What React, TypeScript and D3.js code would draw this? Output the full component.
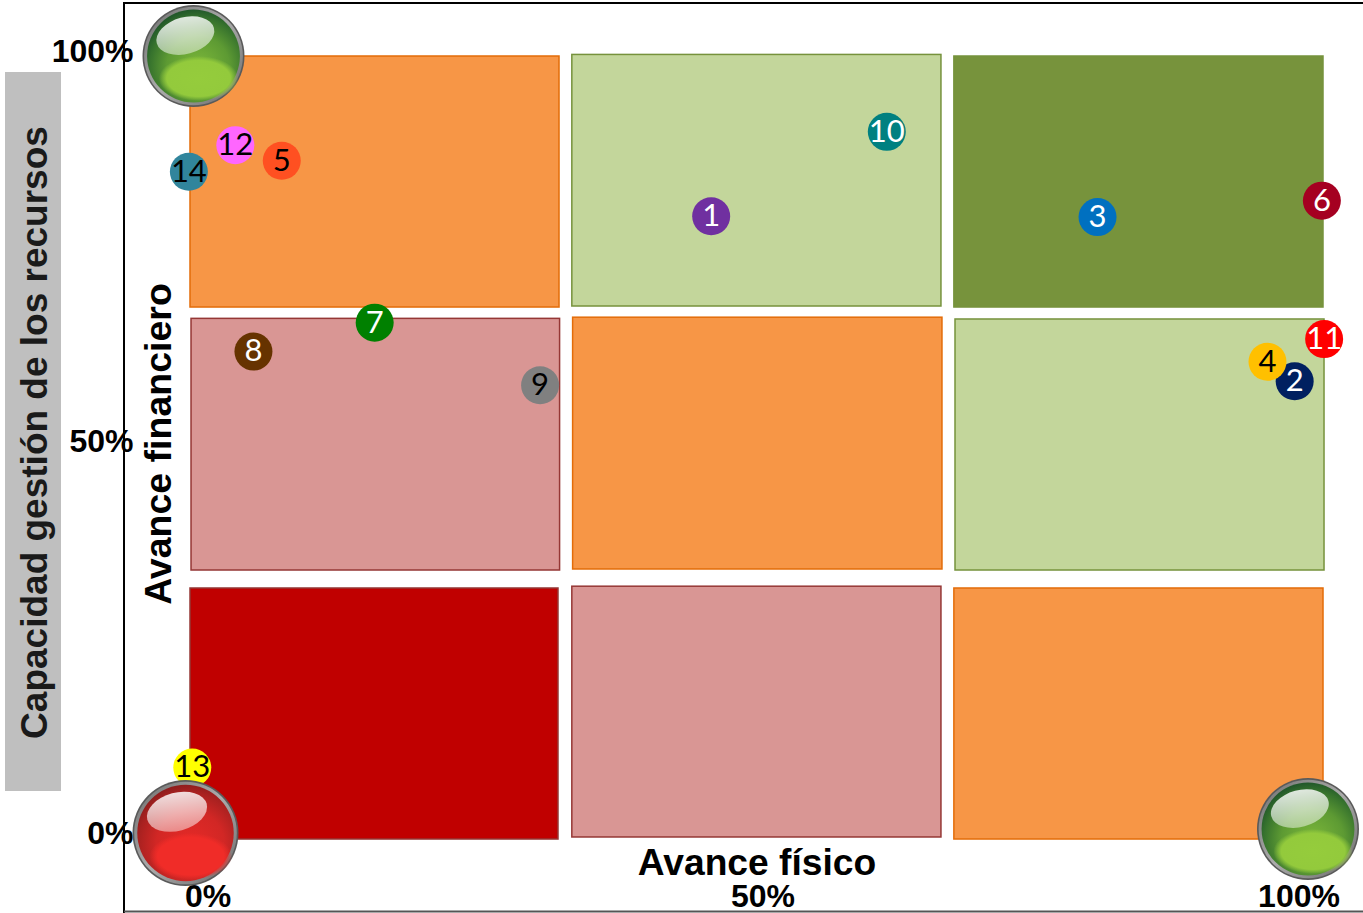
import React from 'react';
import * as d3 from 'd3';

// Semaphore matrix: physical progress vs financial progress (percent)
const pointIds = ['1', '2', '3', '4', '5', '6', '7', '8', '9', '10', '11', '12', '13', '14'];
const avanceFisico = [46.0, 97.5, 80.1, 95.1, 8.1, 99.9, 16.3, 5.6, 30.9, 61.5, 100.1, 4.0, 0.2, -0.1];
const avanceFinanciero = [79.5, 58.4, 79.4, 60.9, 86.6, 81.5, 65.9, 62.2, 57.9, 90.3, 63.8, 88.6, 9.0, 85.2];
const pointColors = ['#7030a0', '#002060', '#0070c0', '#ffc000', '#ff5021', '#a50021', '#008000', '#663300', '#808080', '#008080', '#ff0000', '#ff66ff', '#ffff00', '#31859c'];
const pointTextColors = ['#fff', '#fff', '#fff', '#000', '#000', '#fff', '#fff', '#fff', '#000', '#fff', '#fff', '#000', '#000', '#000'];

// Cells of the matrix, row by row from the top
const cellKinds = ['orange', 'light', 'dark', 'pink', 'orange', 'light', 'red', 'pink', 'orange'];
const cellX0 = [0, 33.7, 67.42, 0.09, 33.77, 67.52, 0, 33.7, 67.42];
const cellX1 = [32.57, 66.28, 100, 32.62, 66.37, 100.09, 32.48, 66.28, 100];
const cellY0 = [67.9, 68.03, 67.9, 34.27, 34.4, 34.27, -0.13, 0.13, -0.13];
const cellY1 = [100, 100.2, 100, 66.45, 66.6, 66.37, 31.97, 32.2, 31.97];

const tickValues = [0, 50, 100];

const cellFill: Record<string, string> = { orange: '#f79646', light: '#c3d69b', dark: '#77933c', pink: '#d99694', red: '#c00000' };
const cellStroke: Record<string, string> = { orange: '#e36c09', light: '#76923c', dark: '#76923c', pink: '#953735', red: '#953735' };

const width = 1363;
const height = 913;
const font = '"Liberation Sans", Arial, sans-serif';

const x = d3.scaleLinear().domain([0, 100]).range([190, 1323]);
const y = d3.scaleLinear().domain([0, 100]).range([838, 56]);

// tick labels sit a bit off the cells in the original
const xTick = d3.scaleLinear().domain(tickValues).range([208, 763, 1299]);
const yTick = d3.scaleLinear().domain(tickValues).range([833, 441, 51]);

const GlassButton: React.FC<{ cx: number; cy: number; r: number; tone: string }> = ({ cx, cy, r, tone }) => (
  <g transform={`translate(${cx},${cy}) scale(${r / 50})`}>
    <circle r={50} fill="#5a5a5a" />
    <circle r={48.4} fill="url(#ring)" />
    <circle r={45.5} fill={`url(#${tone}Ball)`} />
    <ellipse cx={5} cy={22} rx={39} ry={22} fill={`url(#${tone}Glow)`} />
    <ellipse cx={-8} cy={-20} rx={29} ry={18} transform="rotate(-15 -8 -20)" fill="url(#shine)" />
  </g>
);

const App: React.FC = () => {
  return (
    <svg width={width} height={height} viewBox={`0 0 ${width} ${height}`} style={{ position: 'absolute', left: 0, top: 0, display: 'block', background: '#fff' }}>
      <defs>
        <linearGradient id="ring" x1="0" y1="0" x2="1" y2="1">
          <stop offset="0" stopColor="#6e6e6e" />
          <stop offset="0.5" stopColor="#ababab" />
          <stop offset="1" stopColor="#686868" />
        </linearGradient>
        <radialGradient id="greenBall" cx="0.55" cy="0.62" r="0.62">
          <stop offset="0" stopColor="#7db83a" />
          <stop offset="0.55" stopColor="#5d9a33" />
          <stop offset="0.85" stopColor="#36722d" />
          <stop offset="1" stopColor="#22582a" />
        </radialGradient>
        <radialGradient id="redBall" cx="0.55" cy="0.62" r="0.64">
          <stop offset="0" stopColor="#e62a27" />
          <stop offset="0.55" stopColor="#d22725" />
          <stop offset="0.85" stopColor="#a82120" />
          <stop offset="1" stopColor="#8a1c1c" />
        </radialGradient>
        <radialGradient id="greenGlow">
          <stop offset="0" stopColor="#95cc3c" />
          <stop offset="0.8" stopColor="#93ca3c" />
          <stop offset="1" stopColor="#93ca3c" stopOpacity="0" />
        </radialGradient>
        <radialGradient id="redGlow">
          <stop offset="0" stopColor="#f02c28" />
          <stop offset="0.8" stopColor="#f02c28" />
          <stop offset="1" stopColor="#f02c28" stopOpacity="0" />
        </radialGradient>
        <linearGradient id="shine" x1="0.6" y1="0" x2="0.4" y2="1">
          <stop offset="0" stopColor="#fff" stopOpacity="0.85" />
          <stop offset="1" stopColor="#fff" stopOpacity="0.45" />
        </linearGradient>
      </defs>

      {/* frame */}
      <line x1={124} x2={width} y1={3} y2={3} stroke="#000" strokeWidth={2} />
      <line x1={124} x2={124} y1={2} y2={height} stroke="#000" strokeWidth={2} />
      <line x1={124} x2={width} y1={911.5} y2={911.5} stroke="#555" strokeWidth={2} />

      {/* left band title */}
      <rect x={5} y={72} width={56} height={719} fill="#bfbfbf" />
      <text transform="translate(47,432.5) rotate(-90)" textAnchor="middle" fontFamily={font} fontWeight="bold" fontSize={37} fill="#1a1a1a">
        Capacidad gestión de los recursos
      </text>

      {/* cells */}
      {cellKinds.map((kind, i) => (
        <rect
          key={i}
          x={x(cellX0[i])}
          y={y(cellY1[i])}
          width={x(cellX1[i]) - x(cellX0[i])}
          height={y(cellY0[i]) - y(cellY1[i])}
          fill={cellFill[kind]}
          stroke={cellStroke[kind]}
          strokeWidth={1.5}
        />
      ))}

      {/* axis titles */}
      <text transform="translate(171,444) rotate(-90)" textAnchor="middle" fontFamily={font} fontWeight="bold" fontSize={37.5} fill="#000">
        Avance financiero
      </text>
      <text x={757} y={875} textAnchor="middle" fontFamily={font} fontWeight="bold" fontSize={37.2} fill="#000">
        Avance físico
      </text>

      {/* tick labels */}
      {tickValues.map(t => (
        <text key={`x${t}`} x={xTick(t)} y={906.5} textAnchor="middle" fontFamily={font} fontWeight="bold" fontSize={32} fill="#000">
          {t}%
        </text>
      ))}
      {tickValues.map(t => (
        <text key={`y${t}`} x={133.5} y={yTick(t)} dy="0.35em" textAnchor="end" fontFamily={font} fontWeight="bold" fontSize={32} fill="#000">
          {t}%
        </text>
      ))}

      {/* numbered projects */}
      {pointIds.map((id, i) => (
        <g key={id} transform={`translate(${x(avanceFisico[i])},${y(avanceFinanciero[i])})`}>
          <circle r={19} fill={pointColors[i]} />
          <text y={-1} dy="0.35em" textAnchor="middle" fontFamily='Lato, "Noto Sans", sans-serif' fontSize={31} fill={pointTextColors[i]}>
            {id}
          </text>
        </g>
      ))}

      {/* traffic light buttons */}
      <GlassButton cx={193.5} cy={56} r={51} tone="green" />
      <GlassButton cx={185.5} cy={833} r={53} tone="red" />
      <GlassButton cx={1308} cy={829} r={51} tone="green" />
    </svg>
  );
};

export default App;
